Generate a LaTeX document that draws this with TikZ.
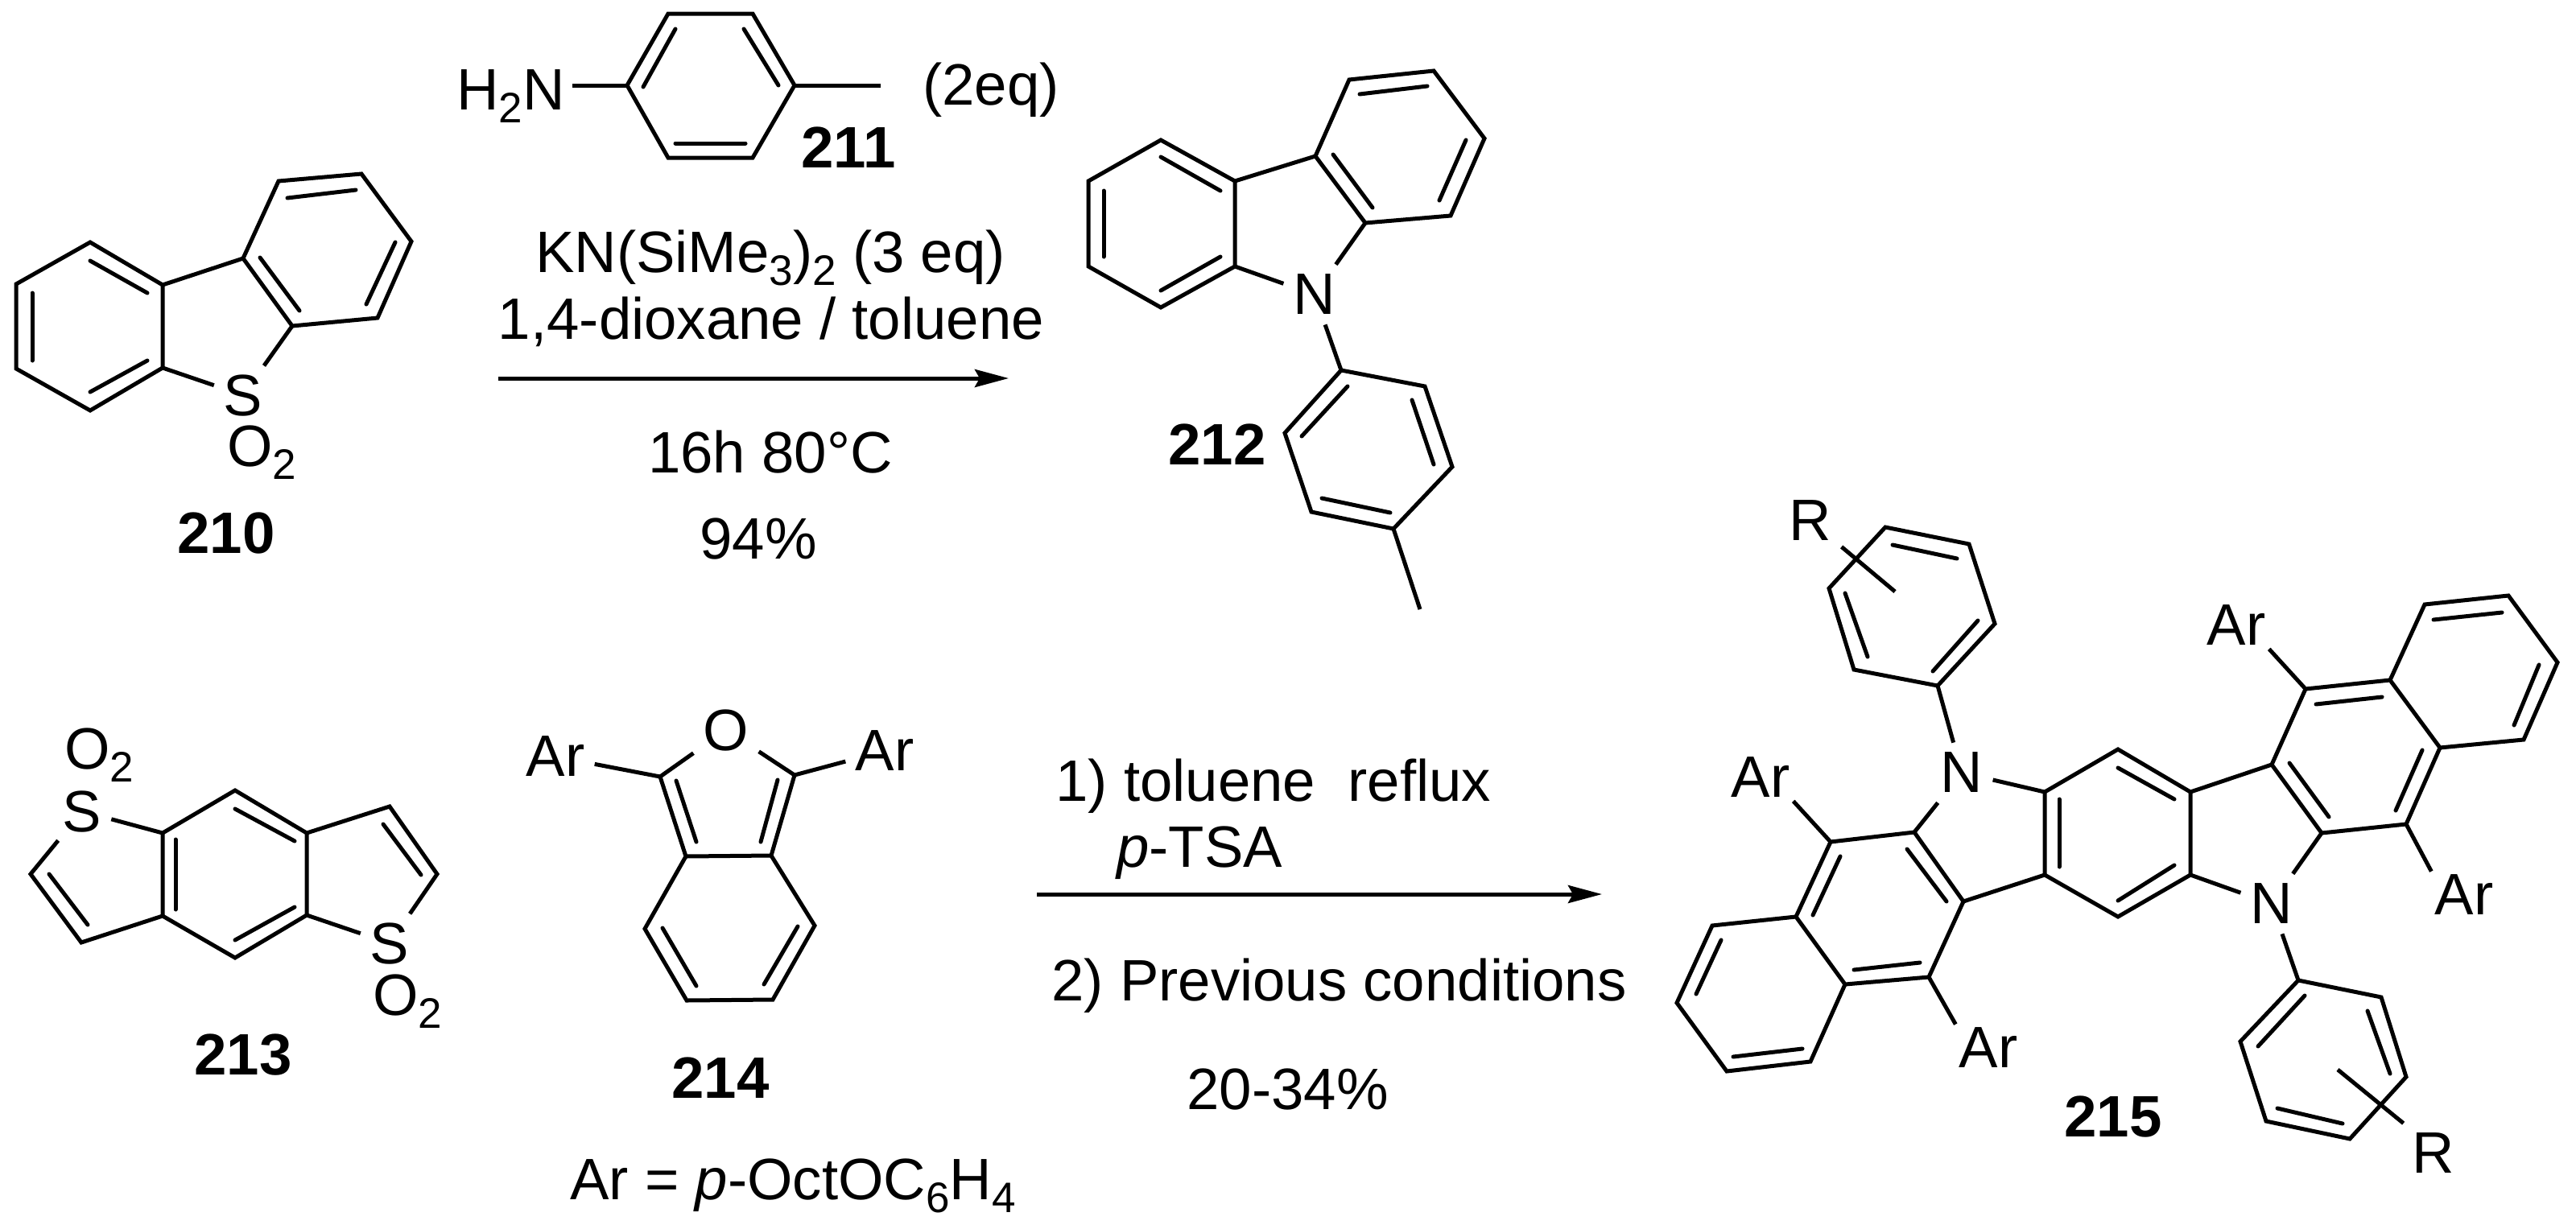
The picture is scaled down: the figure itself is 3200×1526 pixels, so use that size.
\documentclass[tikz,border=0pt]{standalone}
\usepackage{fontspec}
\setmainfont{Liberation Sans}
\usetikzlibrary{arrows.meta}
\newcommand{\lowsub}[1]{{\fontsize{26.5}{30}\selectfont\raisebox{-8pt}{#1}}}
\tikzset{
	bond/.style={line width=2.5pt, line join=miter},
	inbond/.style={line width=2.5pt, line cap=round},
	rxnarrow/.style={line width=2.5pt, -{Stealth[length=21pt,width=11pt,inset=3pt]}},
	txt/.style={font=\fontsize{36.3}{40}\selectfont, inner sep=0pt, anchor=base west},
	atom/.style={font=\fontsize{36.3}{40}\selectfont, inner sep=6pt},
	aryl/.style={font=\fontsize{36.3}{40}\selectfont, inner sep=2pt},
	cmpd/.style={font=\fontsize{36.3}{40}\selectfont\bfseries, inner sep=0pt}
}
\begin{document}
\begin{tikzpicture}[x=0.5pt,y=-0.5pt]
		\useasboundingbox (0,0) rectangle (3200,1526);
		\fill[white] (0,0) rectangle (3200,1526);
		
		% Compound 210
		\foreach \n/\x/\y in {a1/112/301,a2/202/354,a3/202/457,a4/112/510,a5/20/458,a6/20/353,a7/302/321,a8/346/225,a9/449/216,a10/511/300,a11/469/395,a12/363/405}
		\coordinate (\n) at (\x,\y);
		\node[aryl] (s210) at (302,491) {S};
		\node[txt] (o210) at (282,579) {O\lowsub{2}};
		\node[cmpd] (n210) at (281,662) {210};
		\draw[bond] (a1) -- (a2) -- (a3) -- (a4) -- (a5) -- (a6) -- cycle;
		\draw[bond] (a7) -- (a8) -- (a9) -- (a10) -- (a11) -- (a12) -- cycle;
		\draw[bond] (a2) -- (a7);
		\draw[bond,shorten >=4pt] (a3) -- (s210);
		\draw[bond,shorten >=4pt] (a12) -- (s210);
		\foreach \xa/\ya/\xb/\yb in {112/324/183/364,40/364/40/448,112/487/183/448,357/246/442/236,491/301/455/378,323/320/372/386}
		\draw[inbond] (\xa,\ya) -- (\xb,\yb);
		
		% Compound 211
		\foreach \n/\x/\y in {b1/830/17,b2/935/17,b3/987/106,b4/935/196,b5/830/196,b6/779/106,b7/1094/106}
		\coordinate (\n) at (\x,\y);
		\node[txt] (h211) at (567,136) {H\lowsub{2}N};
		\node[txt] (eq211) at (1146,130) {(2eq)};
		\node[cmpd] (n211) at (1054,183) {211};
		\draw[bond] (b1) -- (b2) -- (b3) -- (b4) -- (b5) -- (b6) -- cycle;
		\draw[bond] (b3) -- (b7);
		\draw[bond] (b6) -- ([xshift=4.5pt]h211.base east |- b6);
		\foreach \xa/\ya/\xb/\yb in {839/36/799/108,924/36/967/106,839/178/926/178}
		\draw[inbond] (\xa,\ya) -- (\xb,\yb);
		
		% First reaction
		\coordinate (r1a) at (619,470);
		\coordinate (r1b) at (1253,470);
		\draw[rxnarrow] (r1a) -- (r1b);
		\node[txt,anchor=base] (r1t1) at (957,338) {KN(SiMe\lowsub{3})\lowsub{2} (3 eq)};
		\node[txt,anchor=base] (r1t2) at (958,421) {1,4-dioxane / toluene};
		\node[txt,anchor=base] (r1t3) at (957,587) {16h 80°C};
		\node[txt,anchor=base] (r1t4) at (942,694) {94\%};
		
		% Compound 212
		\foreach \n/\x/\y in {c1/1442/174,c2/1534/225,c3/1534/331,c4/1442/382,c5/1352/331,c6/1352/225,c7/1634/194,c8/1676/99,c9/1781/88,c10/1844/172,c11/1802/268,c12/1696/277,c13/1666/460,c14/1770/480,c15/1804/580,c16/1731/657,c17/1629/636,c18/1596/538,c19/1764/757}
		\coordinate (\n) at (\x,\y);
		\node[atom] (n212) at (1633,366) {N};
		\node[cmpd] (l212) at (1512,552) {212};
		\draw[bond] (c1) -- (c2) -- (c3) -- (c4) -- (c5) -- (c6) -- cycle;
		\draw[bond] (c7) -- (c8) -- (c9) -- (c10) -- (c11) -- (c12) -- cycle;
		\draw[bond] (c2) -- (c7);
		\draw[bond] (c3) -- (n212);
		\draw[bond] (c12) -- (n212);
		\draw[bond] (n212) -- (c13);
		\draw[bond] (c13) -- (c14) -- (c15) -- (c16) -- (c17) -- (c18) -- cycle;
		\draw[bond] (c16) -- (c19);
		\foreach \xa/\ya/\xb/\yb in {1442/195/1516/237,1371/237/1371/319,1442/361/1516/319,1689/117/1773/107,1821/174/1788/249,1656/192/1705/258,1674/480/1617/542,1754/497/1781/577,1642/619/1727/637}
		\draw[inbond] (\xa,\ya) -- (\xb,\yb);
		
		% Compound 213
		\foreach \n/\x/\y in {d1/292/982,d2/381/1035,d3/381/1137,d4/292/1190,d5/202/1138,d6/202/1035,d7/484/1002,d8/543/1086,d9/38/1086,d10/101/1171}
		\coordinate (\n) at (\x,\y);
		\node[aryl] (s213a) at (102,1008) {S};
		\node[aryl] (s213b) at (484,1172) {S};
		\node[txt] (o213a) at (80,955) {O\lowsub{2}};
		\node[txt] (o213b) at (463,1261) {O\lowsub{2}};
		\node[cmpd] (n213) at (302,1311) {213};
		\draw[bond] (d1) -- (d2) -- (d3) -- (d4) -- (d5) -- (d6) -- cycle;
		\draw[bond,shorten >=4pt] (d2) -- (d7) -- (d8) -- (s213b);
		\draw[bond,shorten >=4pt] (d3) -- (s213b);
		\draw[bond,shorten >=4pt] (d5) -- (d10) -- (d9) -- (s213a);
		\draw[bond,shorten >=4pt] (d6) -- (s213a);
		\foreach \xa/\ya/\xb/\yb in {292/1005/366/1045,218/1043/218/1130,292/1168/366/1127,476/1024/523/1087,61/1086/109/1149}
		\draw[inbond] (\xa,\ya) -- (\xb,\yb);
		
		% Compound 214
		\foreach \n/\x/\y in {e1/820/965,e2/987/963,e3/958/1063,e4/852/1064,e5/1012/1150,e6/960/1242,e7/853/1243,e8/801/1154}
		\coordinate (\n) at (\x,\y);
		\node[atom] (o214) at (902,907) {O};
		\node[atom] (ar214a) at (690,940) {Ar};
		\node[atom] (ar214b) at (1099,933) {Ar};
		\node[cmpd] (n214) at (895,1339) {214};
		\node[txt] (ar214) at (708,1490) {Ar = \textit{p}-OctOC\lowsub{6}H\lowsub{4}};
		\draw[bond] (o214) -- (e1) -- (e4) -- (e3) -- (e2) -- (o214);
		\draw[bond] (e4) -- (e8) -- (e7) -- (e6) -- (e5) -- (e3);
		\draw[bond] (e1) -- (ar214a);
		\draw[bond] (e2) -- (ar214b);
		\foreach \xa/\ya/\xb/\yb in {840/970/865/1046,966/969/945/1046,823/1153/865/1225,991/1151/949/1223}
		\draw[inbond] (\xa,\ya) -- (\xb,\yb);
		
		% Second reaction
		\coordinate (r2a) at (1288,1111);
		\coordinate (r2b) at (1990,1111);
		\draw[rxnarrow] (r2a) -- (r2b);
		\node[txt] (r2t1) at (1311,995) {1) toluene\ \ reflux};
		\node[txt] (r2t2) at (1387,1077) {\textit{p}-TSA};
		\node[txt] (r2t3) at (1306,1243) {2) Previous conditions};
		\node[txt] (r2t4) at (1474,1378) {20-34\%};
		
		% Compound 215
		\foreach \n/\x/\y in {f1/2631/931,f2/2721/984,f3/2721/1087,f4/2631/1139,f5/2540/1087,f6/2540/984,f7/2378/1034,f8/2439/1120,f9/2822/950,f10/2884/1035,f11/2274/1046,f12/2396/1214,f13/2292/1223,f14/2231/1139,f15/2127/1150,f16/2083/1246,f17/2145/1331,f18/2249/1319,f19/2864/856,f20/2969/845,f21/3031/929,f22/2989/1024,f23/3012/751,f24/3116/740,f25/3177/823,f26/3135/919,g1/2407/852,g2/2478/775,g3/2446/676,g4/2342/655,g5/2272/731,g6/2303/832,h1/2855/1218,h2/2958/1239,h3/2989/1338,h4/2919/1415,h5/2815/1393,h6/2783/1294,g7/2354/735,h7/2904/1329}
		\coordinate (\n) at (\x,\y);
		\node[atom] (n215a) at (2437,960) {N};
		\node[atom] (n215b) at (2822,1123) {N};
		\node[aryl] (ar215a) at (2187,966) {Ar};
		\node[aryl] (ar215b) at (2778,777) {Ar};
		\node[aryl] (ar215c) at (2470,1302) {Ar};
		\node[aryl] (ar215d) at (3061,1112) {Ar};
		\node[atom] (r215a) at (2249,647) {R};
		\node[atom] (r215b) at (3023,1433) {R};
		\node[cmpd] (n215) at (2625,1387) {215};
		\draw[bond] (f1) -- (f2) -- (f3) -- (f4) -- (f5) -- (f6) -- cycle;
		\draw[bond] (f6) -- (n215a) -- (f7) -- (f8) -- (f5);
		\draw[bond] (f2) -- (f9) -- (f10) -- (n215b) -- (f3);
		\draw[bond] (f7) -- (f11) -- (f14) -- (f13) -- (f12) -- (f8);
		\draw[bond] (f14) -- (f15) -- (f16) -- (f17) -- (f18) -- (f13);
		\draw[bond] (f9) -- (f19) -- (f20) -- (f21) -- (f22) -- (f10);
		\draw[bond] (f20) -- (f23) -- (f24) -- (f25) -- (f26) -- (f21);
		\draw[bond] (f11) -- (ar215a.south east);
		\draw[bond] (f19) -- (ar215b.south east);
		\draw[bond] (f12) -- (ar215c.north west);
		\draw[bond] (f22) -- (ar215d.north west);
		\draw[bond] (g1) -- (g2) -- (g3) -- (g4) -- (g5) -- (g6) -- cycle;
		\draw[bond] (n215a) -- (g1);
		\draw[bond] (h1) -- (h2) -- (h3) -- (h4) -- (h5) -- (h6) -- cycle;
		\draw[bond] (n215b) -- (h1);
		\draw[bond] (r215a.-40) -- (g7);
		\draw[bond] (h7) -- (r215b.135);
		\foreach \xa/\ya/\xb/\yb in {2631/954/2701/993,2558/993/2558/1077,2631/1119/2701/1075,2286/1064/2252/1137,2369/1055/2418/1120,2303/1205/2385/1196,2138/1168/2107/1235,2153/1313/2239/1303,2877/875/2959/866,2844/948/2893/1015,3009/932/2976/1007,3023/770/3108/761,3154/826/3123/901,2401/834/2457/771,2431/694/2351/677,2292/737/2320/816,2863/1237/2805/1300,2941/1256/2969/1334,2910/1396/2829/1377}
		\draw[inbond] (\xa,\ya) -- (\xb,\yb);
\end{tikzpicture}
\end{document}
